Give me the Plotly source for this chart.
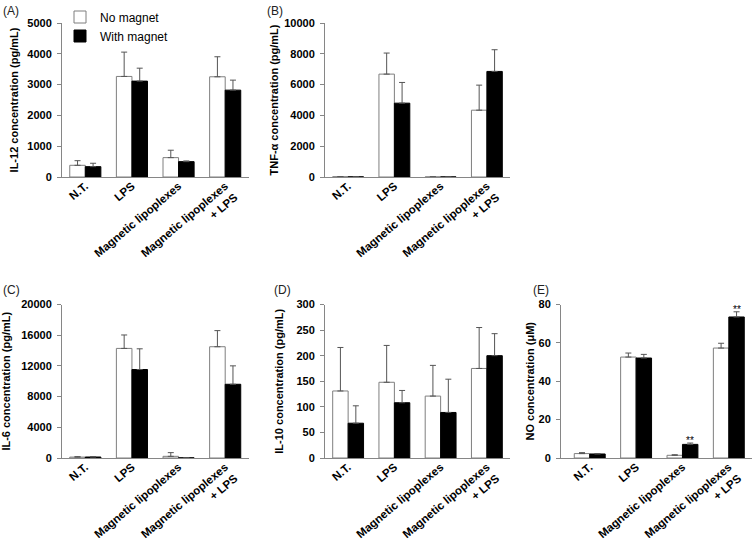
import plotly.graph_objects as go

W, H = 754, 540

categories = ["N.T.", "LPS", "Magnetic lipoplexes", "Magnetic lipoplexes<br>+ LPS"]
series_names = ["No magnet", "With magnet"]

# (A) IL-12 (pg/mL)
il12_no = [380, 3265, 629, 3254]
il12_no_sd = [150, 790, 240, 650]
il12_with = [336, 3113, 499, 2820]
il12_with_sd = [110, 420, 22, 325]

# (B) TNF-alpha (pg/mL)
tnf_no = [20, 6681, 8, 4338]
tnf_no_sd = [0, 1367, 0, 1627]
tnf_with = [10, 4794, 5, 6855]
tnf_with_sd = [0, 1345, 0, 1410]

# (C) IL-6 (pg/mL)
il6_no = [120, 14279, 218, 14498]
il6_no_sd = [50, 1750, 480, 2100]
il6_with = [130, 11528, 20, 9607]
il6_with_sd = [50, 2700, 0, 2400]

# (D) IL-10 (pg/mL)
il10_no = [131, 148, 121, 175]
il10_no_sd = [85, 72, 60, 80]
il10_with = [68, 108, 89, 200]
il10_with_sd = [34, 24, 65, 43]

# (E) NO (uM)
no_no = [2.3, 52.6, 1.4, 57.3]
no_no_sd = [0.5, 2.1, 0.3, 2.5]
no_with = [2.1, 52.1, 7.1, 73.5]
no_with_sd = [0.2, 1.9, 0.7, 2.7]
sig_index = [2, 3]  # '**' on "With magnet" bars

panels = [
    dict(label="(A)", title="IL-12 concentration (pg/mL)", no=il12_no, no_sd=il12_no_sd,
         w=il12_with, w_sd=il12_with_sd, yr=[0, 5000], dt=1000,
         px=(62, 248.5), py=(23, 177), xr=[-0.5, 3.5], standoff=6, lab=(1, 2)),
    dict(label="(B)", title="TNF-α concentration (pg/mL)", no=tnf_no, no_sd=tnf_no_sd,
         w=tnf_with, w_sd=tnf_with_sd, yr=[0, 10000], dt=2000,
         px=(325, 510), py=(23, 177), xr=[-0.5, 3.5], standoff=3, lab=(265, 2)),
    dict(label="(C)", title="IL-6 concentration (pg/mL)", no=il6_no, no_sd=il6_no_sd,
         w=il6_with, w_sd=il6_with_sd, yr=[0, 20000], dt=4000,
         px=(62, 248.5), py=(304.5, 458), xr=[-0.5, 3.5], standoff=8, lab=(1, 281)),
    dict(label="(D)", title="IL-10 concentration (pg/mL)", no=il10_no, no_sd=il10_no_sd,
         w=il10_with, w_sd=il10_with_sd, yr=[0, 300], dt=50,
         px=(325, 510), py=(304.5, 458), xr=[-0.5, 3.5], standoff=10, lab=(272, 281)),
    dict(label="(E)", title="NO concentration (μM)", no=no_no, no_sd=no_no_sd,
         w=no_with, w_sd=no_with_sd, yr=[0, 80], dt=20,
         px=(561, 752), py=(304.5, 458), xr=[-0.62, 3.5], standoff=1, lab=(531, 281)),
]

FONT = "Liberation Sans, Arial, sans-serif"
AXC = "#868686"

fig = go.Figure()
layout = dict(
    template="none",
    width=W, height=H, margin=dict(l=0, r=0, t=0, b=0, pad=0, autoexpand=False),
    paper_bgcolor="white", plot_bgcolor="white",
    barmode="group", bargap=0.333, bargroupgap=0,
    font=dict(family=FONT, size=11, color="black"),
    showlegend=True,
    legend=dict(x=60 / W, y=1 - 2.5 / H, xanchor="left", yanchor="top",
                bgcolor="rgba(0,0,0,0)", borderwidth=0,
                font=dict(size=12, family=FONT, color="black"),
                tracegroupgap=0, itemwidth=30),
)
annotations = []

for i, p in enumerate(panels):
    n = i + 1
    xa = "x" if n == 1 else f"x{n}"
    ya = "y" if n == 1 else f"y{n}"
    xk = "xaxis" if n == 1 else f"xaxis{n}"
    yk = "yaxis" if n == 1 else f"yaxis{n}"
    for j, (vals, sd, fill, line) in enumerate([
        (p["no"], p["no_sd"], "white", "#7f7f7f"),
        (p["w"], p["w_sd"], "black", "black"),
    ]):
        fig.add_trace(go.Bar(
            x=categories, y=vals, name=series_names[j],
            xaxis=xa, yaxis=ya, showlegend=(n == 1), legendgroup=series_names[j],
            marker=dict(color=fill, line=dict(color=line, width=1)),
            error_y=dict(type="data", symmetric=False, array=sd,
                         arrayminus=[0] * len(sd), color="#555555",
                         thickness=1, width=3),
        ))
    layout[xk] = dict(
        domain=[p["px"][0] / W, p["px"][1] / W], anchor=ya, automargin=False,
        range=p["xr"], showline=True, linecolor=AXC, linewidth=1,
        ticks="", tickangle=-40, showgrid=False, zeroline=False,
        ticklabelstandoff=-3,
        tickfont=dict(size=11.5, family=FONT, weight="bold", color="black"),
    )
    layout[yk] = dict(
        domain=[1 - p["py"][1] / H, 1 - p["py"][0] / H], anchor=xa, automargin=False,
        range=p["yr"], dtick=p["dt"], tick0=0, tickformat="d", showline=True,
        linecolor=AXC, linewidth=1, ticks="outside", ticklen=4, tickcolor=AXC,
        ticklabelstandoff=3, showgrid=False, zeroline=False,
        tickfont=dict(size=11, family=FONT, weight="bold", color="black"),
        title=dict(text=p["title"], standoff=p["standoff"],
                   font=dict(size=11, family=FONT, weight="bold", color="black")),
    )
    annotations.append(dict(
        text=p["label"], xref="paper", yref="paper",
        x=p["lab"][0] / W, y=1 - p["lab"][1] / H, xanchor="left", yanchor="top",
        showarrow=False, font=dict(size=12, family=FONT, color="#222222"),
    ))

# significance marks on panel E
for k in sig_index:
    annotations.append(dict(
        text="**", xref="x5", yref="y5", x=k + 0.1667,
        y=no_with[k] + no_with_sd[k], yanchor="bottom", yshift=-5,
        showarrow=False, font=dict(size=10, family=FONT, color="black"),
    ))

layout["annotations"] = annotations
fig.update_layout(**layout)
fig.write_html("out.html", config={"displayModeBar": False},
               post_script="document.body.style.margin='0';")
